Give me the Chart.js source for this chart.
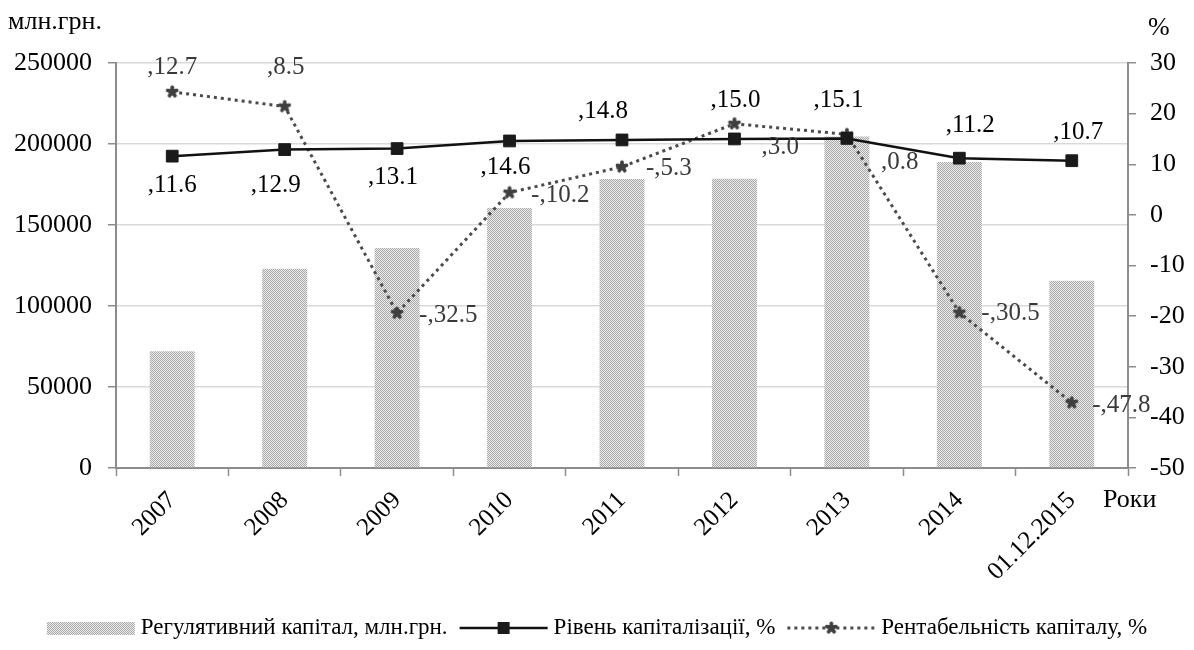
<!DOCTYPE html>
<html lang="uk">
<head>
<meta charset="utf-8">
<title>Регулятивний капітал, рівень капіталізації та рентабельність капіталу</title>
<script src="https://cdn.jsdelivr.net/npm/chart.js@4.4.1/dist/chart.umd.min.js"></script>
<style>
  html, body { margin: 0; padding: 0; background: #ffffff; }
  #wrap { width: 1194px; height: 650px; }
</style>
</head>
<body>
<div id="wrap"><canvas id="c" width="1194" height="650"></canvas></div>
<script>
// ---- data ----
const years = ['2007', '2008', '2009', '2010', '2011', '2012', '2013', '2014', '01.12.2015'];
const regCapital = [72000, 123000, 135800, 160500, 178400, 178600, 204700, 188900, 115600]; // млн.грн.
const capRate = [11.6, 12.9, 13.1, 14.6, 14.8, 15.0, 15.1, 11.2, 10.7];                     // %
const returnOnCap = [12.7, 8.5, -32.5, -10.2, -5.3, 3.0, 0.8, -30.5, -47.8];                // %
const leftTicks = [0, 50000, 100000, 150000, 200000, 250000];
const rightTicks = [-50, -40, -30, -20, -10, 0, 10, 20, 30];

const seriesNames = ['Регулятивний капітал, млн.грн.', 'Рівень капіталізації, %', 'Рентабельність капіталу, %'];

// ---- label placement (align, dx, dy relative to the point) ----
const capLabelPlace = [
  ['center', 0, 29], ['center', -9, 35.5], ['center', -4, 28.5], ['center', -4, 26],
  ['center', -19, -29], ['center', 1, -38.5], ['center', -8.5, -38], ['center', 11, -32.5], ['center', 6.5, -28.5]
];
const rentLabelPlace = [
  ['center', 0, -24.5], ['center', 1, -39], ['left', 22, 2], ['left', 21.5, 2.5],
  ['left', 24, 2], ['left', 27, 24], ['left', 34, 28.5], ['left', 22, 0.5], ['left', 20.5, 2.5]
];

const FONT = '"Liberation Serif", "Times New Roman", serif';
const AXIS_GREY = '#8c8c8c';
const GRID_GREY = '#d9d9d9';

const canvas = document.getElementById('c');
const ctx0 = canvas.getContext('2d');

// fine checker fill for the bars
function makeBarPattern() {
  const p = document.createElement('canvas');
  p.width = 4; p.height = 4;
  const g = p.getContext('2d');
  g.fillStyle = '#ebebeb';
  g.fillRect(0, 0, 4, 4);
  g.fillStyle = '#a9a9a9';
  for (let y = 0; y < 4; y++) {
    for (let x = 0; x < 4; x++) {
      if ((x + y) % 2 === 0) g.fillRect(x, y, 1, 1);
    }
  }
  return ctx0.createPattern(p, 'repeat');
}

// blotchy star marker for the return line
function makeStarMarker() {
  const s = document.createElement('canvas');
  s.width = 16; s.height = 16;
  const g = s.getContext('2d');
  g.strokeStyle = '#3f3f3f';
  g.fillStyle = '#3f3f3f';
  g.lineWidth = 3.6;
  g.lineCap = 'round';
  const cx = 8, cy = 8, r = 4.8;
  for (let k = 0; k < 5; k++) {
    const a = k * 2 * Math.PI / 5 + Math.PI / 2;
    g.beginPath();
    g.moveTo(cx, cy);
    g.lineTo(cx + r * Math.cos(a), cy - r * Math.sin(a));
    g.stroke();
  }
  g.beginPath();
  g.arc(cx, cy, 3.6, 0, Math.PI * 2);
  g.fill();
  return s;
}

const barPattern = makeBarPattern();
const starMarker = makeStarMarker();

function fmtLabel(v) {
  return (v < 0 ? '-' : '') + ',' + Math.abs(v).toFixed(1);
}

// value labels next to the line points
const valueLabels = {
  id: 'valueLabels',
  afterDatasetsDraw(chart) {
    const ctx = chart.ctx;
    const capMeta = chart.getDatasetMeta(1);
    const rentMeta = chart.getDatasetMeta(2);
    ctx.save();
    ctx.font = '25px ' + FONT;
    ctx.textBaseline = 'middle';
    capRate.forEach((v, i) => {
      const p = capMeta.data[i];
      const [al, dx, dy] = capLabelPlace[i];
      ctx.textAlign = al;
      ctx.fillStyle = '#000000';
      ctx.fillText(fmtLabel(v), p.x + dx, p.y + dy);
    });
    returnOnCap.forEach((v, i) => {
      const p = rentMeta.data[i];
      const [al, dx, dy] = rentLabelPlace[i];
      ctx.textAlign = al;
      ctx.fillStyle = '#3a3a3a';
      ctx.fillText(fmtLabel(v), p.x + dx, p.y + dy);
    });
    ctx.restore();
  }
};

// axis captions and the bottom legend
const captionsAndLegend = {
  id: 'captionsAndLegend',
  afterDraw(chart) {
    const ctx = chart.ctx;
    ctx.save();
    ctx.fillStyle = '#000000';
    ctx.textBaseline = 'middle';
    ctx.textAlign = 'left';
    ctx.font = '26px ' + FONT;
    ctx.fillText('млн.грн.', 8, 22);
    ctx.fillText('%', 1148, 28);
    ctx.fillText('Роки', 1103, 500);

    // legend
    ctx.font = '23px ' + FONT;
    const swatchW = 88, gapSwatchText = 6, gapItems = 12;
    const widths = seriesNames.map(n => ctx.measureText(n).width);
    const total = widths.reduce((a, b) => a + b, 0) + 3 * (swatchW + gapSwatchText) + 2 * gapItems;
    let x = (chart.width - total) / 2;
    const y = 628;
    const ds = chart.data.datasets;

    // bar swatch
    ctx.fillStyle = ds[0].backgroundColor;
    ctx.fillRect(x, y - 6, swatchW, 13);
    x += swatchW + gapSwatchText;
    ctx.fillStyle = '#000000';
    ctx.fillText(seriesNames[0], x, y);
    x += widths[0] + gapItems;

    // capitalisation swatch
    ctx.strokeStyle = ds[1].borderColor;
    ctx.lineWidth = ds[1].borderWidth;
    ctx.beginPath();
    ctx.moveTo(x, y); ctx.lineTo(x + swatchW, y);
    ctx.stroke();
    ctx.fillStyle = ds[1].pointBackgroundColor;
    ctx.fillRect(x + swatchW / 2 - 6, y - 6, 12, 12);
    x += swatchW + gapSwatchText;
    ctx.fillStyle = '#000000';
    ctx.fillText(seriesNames[1], x, y);
    x += widths[1] + gapItems;

    // return swatch
    ctx.strokeStyle = ds[2].borderColor;
    ctx.lineWidth = ds[2].borderWidth;
    ctx.setLineDash(ds[2].borderDash);
    ctx.beginPath();
    ctx.moveTo(x, y); ctx.lineTo(x + swatchW, y);
    ctx.stroke();
    ctx.setLineDash([]);
    ctx.drawImage(starMarker, x + swatchW / 2 - 8, y - 8);
    x += swatchW + gapSwatchText;
    ctx.fillStyle = '#000000';
    ctx.fillText(seriesNames[2], x, y);
    ctx.restore();
  }
};

new Chart(ctx0, {
  data: {
    labels: years,
    datasets: [
      {
        type: 'bar',
        label: seriesNames[0],
        data: regCapital,
        yAxisID: 'y',
        backgroundColor: barPattern,
        borderWidth: 0,
        categoryPercentage: 1.0,
        barPercentage: 0.4,
        order: 3
      },
      {
        type: 'line',
        label: seriesNames[1],
        data: capRate,
        yAxisID: 'y1',
        borderColor: '#111111',
        borderWidth: 2.5,
        pointStyle: 'rect',
        pointRadius: 8.3,
        pointBackgroundColor: '#1a1a1a',
        pointBorderColor: '#1a1a1a',
        pointBorderWidth: 1,
        tension: 0,
        order: 1
      },
      {
        type: 'line',
        label: seriesNames[2],
        data: returnOnCap,
        yAxisID: 'y1',
        borderColor: '#4a4a4a',
        borderWidth: 3,
        borderDash: [3, 4],
        pointStyle: starMarker,
        pointRadius: 8,
        tension: 0,
        order: 2
      }
    ]
  },
  options: {
    responsive: false,
    animation: false,
    events: [],
    layout: { padding: { top: 63, left: 0, right: 0, bottom: 0 } },
    plugins: {
      legend: { display: false },
      tooltip: { enabled: false },
      title: { display: false }
    },
    scales: {
      x: {
        type: 'category',
        offset: true,
        grid: {
          offset: true,
          drawOnChartArea: false,
          drawTicks: true,
          tickLength: 8,
          tickColor: AXIS_GREY,
          tickWidth: 1.5
        },
        border: { display: true, color: AXIS_GREY, width: 2 },
        ticks: {
          autoSkip: false,
          maxRotation: 45,
          minRotation: 45,
          padding: 10,
          color: '#000000',
          font: { family: FONT, size: 25 }
        },
        afterFit(scale) { scale.height = 182; }
      },
      y: {
        type: 'linear',
        position: 'left',
        min: leftTicks[0],
        max: leftTicks[leftTicks.length - 1],
        afterBuildTicks(scale) { scale.ticks = leftTicks.map(v => ({ value: v })); },
        grid: {
          color: (c) => (c.tick && c.tick.value === 0 ? AXIS_GREY : GRID_GREY),
          lineWidth: 1.5,
          drawTicks: true,
          tickLength: 8,
          tickColor: AXIS_GREY
        },
        border: { display: true, color: AXIS_GREY, width: 2 },
        ticks: {
          padding: 16,
          color: '#000000',
          font: { family: FONT, size: 26 },
          callback: (v) => String(v)
        },
        afterFit(scale) { scale.width = 116; }
      },
      y1: {
        type: 'linear',
        position: 'right',
        // plain additive stacking: the return line sits on top of the capitalisation line
        stacked: 'single',
        min: rightTicks[0],
        max: rightTicks[rightTicks.length - 1],
        afterBuildTicks(scale) { scale.ticks = rightTicks.map(v => ({ value: v })); },
        grid: {
          drawOnChartArea: false,
          drawTicks: true,
          tickLength: 8,
          tickColor: AXIS_GREY,
          lineWidth: 1.5
        },
        border: { display: true, color: AXIS_GREY, width: 2 },
        ticks: {
          padding: 14,
          color: '#000000',
          font: { family: FONT, size: 26 },
          callback: (v) => String(v)
        },
        afterFit(scale) { scale.width = 66; }
      }
    }
  },
  plugins: [valueLabels, captionsAndLegend]
});
</script>
</body>
</html>
